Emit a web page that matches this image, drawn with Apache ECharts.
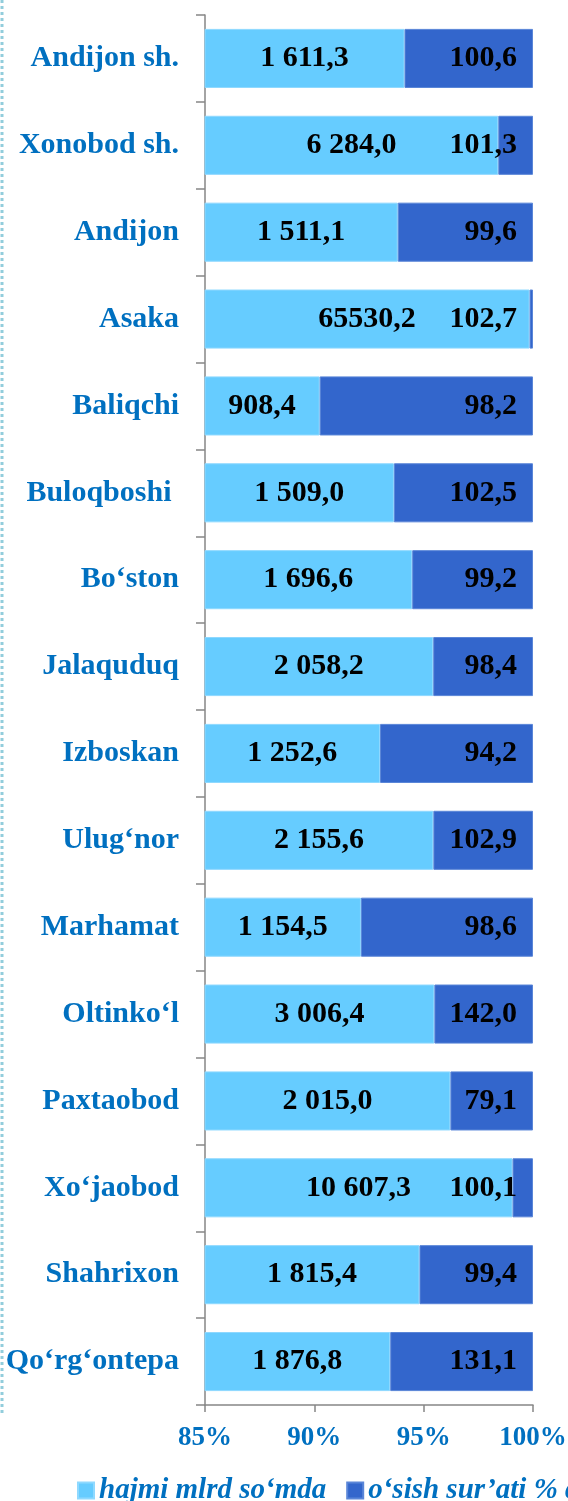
<!DOCTYPE html>
<html><head><meta charset="utf-8">
<script src="https://cdn.jsdelivr.net/npm/echarts@6/dist/echarts.min.js"></script>
<style>html,body{margin:0;padding:0;background:#fff}#c{width:568px;height:1501px}</style>
</head><body><div id="c"></div>
<script>
var categories = ["Andijon sh.","Xonobod sh.","Andijon","Asaka","Baliqchi","Buloqboshi ","Bo‘ston","Jalaquduq","Izboskan","Ulug‘nor","Marhamat","Oltinko‘l","Paxtaobod","Xo‘jaobod","Shahrixon","Qo‘rg‘ontepa"];
var volume = [1611.3,6284.0,1511.1,65530.2,908.4,1509.0,1696.6,2058.2,1252.6,2155.6,1154.5,3006.4,2015.0,10607.3,1815.4,1876.8];
var volumeText = ["1 611,3","6 284,0","1 511,1","65530,2","908,4","1 509,0","1 696,6","2 058,2","1 252,6","2 155,6","1 154,5","3 006,4","2 015,0","10 607,3","1 815,4","1 876,8"];
var growth = [100.6,101.3,99.6,102.7,98.2,102.5,99.2,98.4,94.2,102.9,98.6,142.0,79.1,100.1,99.4,131.1];
var seriesNames = ["hajmi mlrd so‘mda","o‘sish sur’ati % da"];

var share1 = volume.map(function(v,i){return v/(v+growth[i])*100;});
var share2 = growth.map(function(g,i){return g/(volume[i]+g)*100;});
var serif = '"Liberation Serif","Times New Roman",serif';
var blue = '#0070C0';
var chart = echarts.init(document.getElementById('c'));
chart.setOption({
  animation:false,
  textStyle:{fontFamily:serif},
  grid:{left:205,right:35,top:15,bottom:96,containLabel:false,outerBoundsMode:'none'},
  legend:{left:72,top:1471,width:1200,icon:'rect',itemWidth:16,itemHeight:16,itemGap:20,
    textStyle:{fontFamily:serif,fontSize:29,fontWeight:'bold',fontStyle:'italic',color:blue},
    data:seriesNames},
  xAxis:{type:'value',min:85,max:100,interval:5,
    axisLine:{show:true,lineStyle:{color:'#868686',width:1.5}},
    axisTick:{show:true,length:7,lineStyle:{color:'#868686',width:1.5}},
    splitLine:{show:false},
    axisLabel:{formatter:'{value}%',fontFamily:serif,fontSize:27,fontWeight:'bold',color:blue,margin:20,hideOverlap:false}},
  yAxis:{type:'category',inverse:true,data:categories,
    axisLine:{show:true,lineStyle:{color:'#868686',width:1.5}},
    axisTick:{show:true,length:9,lineStyle:{color:'#868686',width:1.5}},
    axisLabel:{fontFamily:serif,fontSize:30,fontWeight:'bold',color:blue,margin:26}},
  series:[
    {name:seriesNames[0],type:'bar',stack:'s',barCategoryGap:'32%',data:share1,
     itemStyle:{color:'#66CCFF',borderColor:'#8FD9FF',borderWidth:1},
     label:{show:true,position:'inside',fontFamily:serif,fontSize:30,fontWeight:'bold',color:'#000',
       formatter:function(p){return volumeText[p.dataIndex];}}},
    {name:seriesNames[1],type:'bar',stack:'s',data:share2,
     itemStyle:{color:'#3366CC',borderColor:'#5A86D8',borderWidth:1},
     label:{show:true,position:'insideRight',distance:16,fontFamily:serif,fontSize:30,fontWeight:'bold',color:'#000',
       formatter:function(p){return growth[p.dataIndex].toFixed(1).replace('.',',');}}}
  ],
  graphic:[{type:'line',shape:{x1:2,y1:0,x2:2,y2:1414},style:{stroke:'#92CDDC',lineWidth:3,lineDash:[3,3]}}]
});
</script></body></html>
